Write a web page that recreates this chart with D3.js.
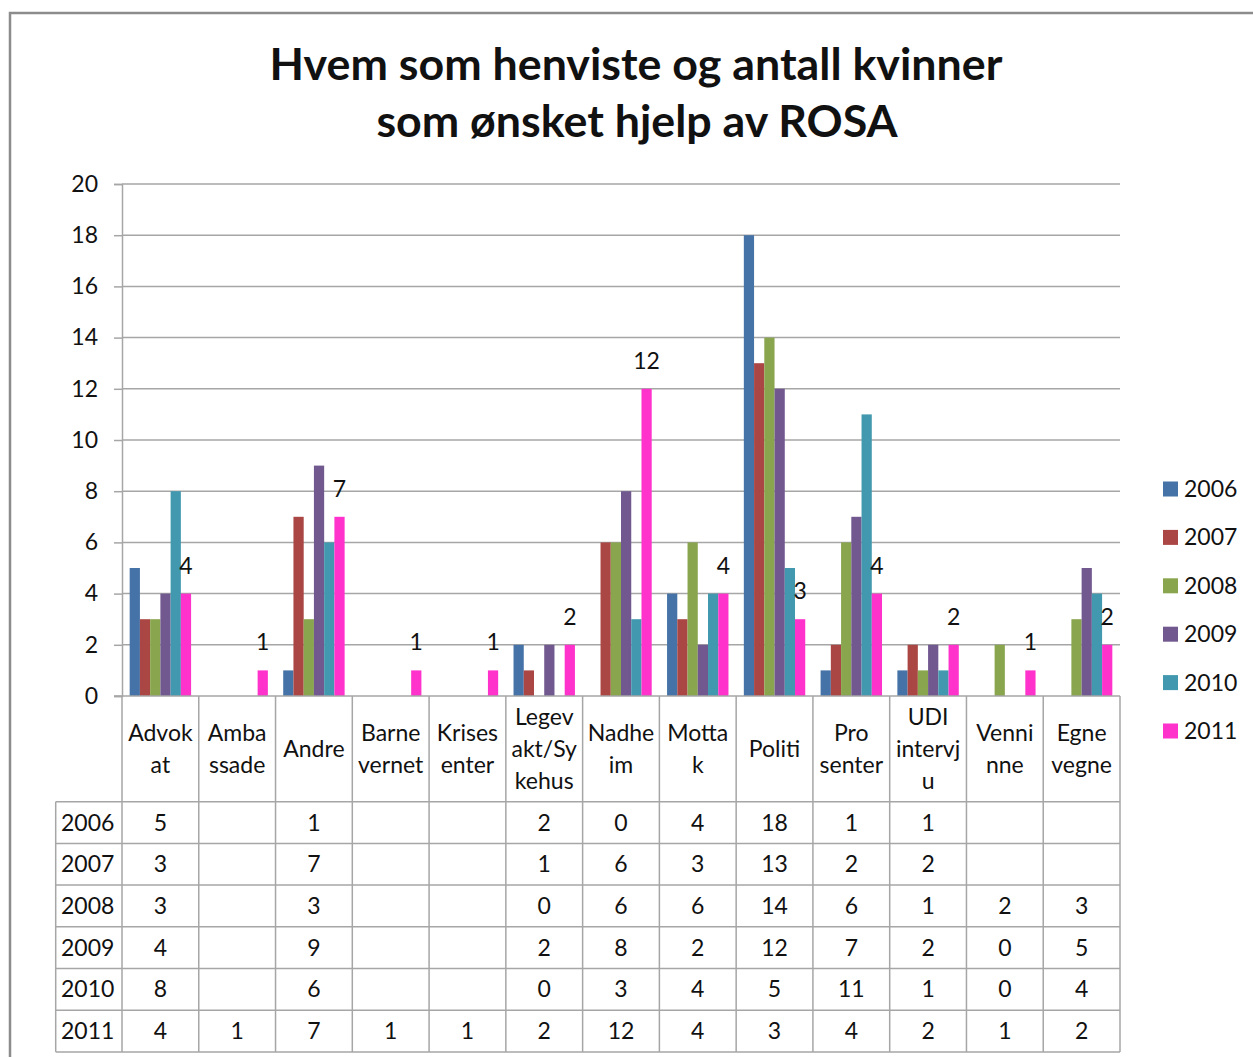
<!DOCTYPE html>
<html><head><meta charset="utf-8">
<script src="https://cdn.jsdelivr.net/npm/d3@7"></script>
<style>body{margin:0;background:#fff}svg{display:block}text{font-family:Lato,"Open Sans",sans-serif;fill:#111}</style>
</head><body><svg id="c" width="1253" height="1057"></svg>
<script>
const titleLines = ["Hvem som henviste og antall kvinner", "som ønsket hjelp av ROSA"];
const categories = ["Advokat","Ambassade","Andre","Barnevernet","Krisesenter","Legevakt/Sykehus","Nadheim","Mottak","Politi","Pro senter","UDI intervju","Venninne","Egne vegne"];
const categoryLabels = [["Advok","at"],["Amba","ssade"],["Andre"],["Barne","vernet"],["Krises","enter"],["Legev","akt/Sy","kehus"],["Nadhe","im"],["Motta","k"],["Politi"],["Pro","senter"],["UDI","intervj","u"],["Venni","nne"],["Egne","vegne"]];
const seriesNames = ["2006","2007","2008","2009","2010","2011"];
const s2006 = [5,null,1,null,null,2,0,4,18,1,1,null,null];
const s2007 = [3,null,7,null,null,1,6,3,13,2,2,null,null];
const s2008 = [3,null,3,null,null,0,6,6,14,6,1,2,3];
const s2009 = [4,null,9,null,null,2,8,2,12,7,2,0,5];
const s2010 = [8,null,6,null,null,0,3,4,5,11,1,0,4];
const s2011 = [4,1,7,1,1,2,12,4,3,4,2,1,2];
const seriesValues = [s2006,s2007,s2008,s2009,s2010,s2011];
const yTicks = [0,2,4,6,8,10,12,14,16,18,20];
const labeledSeries = "2011";
const colors = ["#4572A7","#AA4643","#89A54E","#71588F","#4198AF","#FF33CC"];

const svg = d3.select("#c");
const FONT = 23;
const gridCol = "#A6A6A6";

// frame
svg.append("path").attr("d","M10,1057 V13 H1253").attr("fill","none").attr("stroke","#8c8c8c").attr("stroke-width",2.5);

// title
const tg = svg.append("g");
const tl1 = tg.append("text").attr("x",636).attr("y",80).attr("text-anchor","middle").attr("font-weight","bold").attr("font-size",40).text(titleLines[0]);
const w1 = tl1.node().getComputedTextLength();
const tsize = 40*733/w1;
tl1.attr("font-size",tsize);
tg.append("text").attr("x",637).attr("y",137).attr("text-anchor","middle").attr("font-weight","bold").attr("font-size",tsize).text(titleLines[1]);

const x = d3.scaleBand().domain(categories).range([122,1120]).paddingInner(0).paddingOuter(0);
const y = d3.scaleLinear().domain([0,20]).range([696,184]);
const bw = x.bandwidth()/7.5;
const xs = d3.scaleBand().domain(seriesNames).range([0.75*bw, x.bandwidth()-0.75*bw]);

// gridlines
svg.append("g").selectAll("line").data(yTicks.filter(d=>d>0)).join("line")
  .attr("x1",122).attr("x2",1120).attr("y1",d=>y(d)).attr("y2",d=>y(d))
  .attr("stroke",gridCol).attr("stroke-width",1.5);

// y axis
const yAxis = d3.axisLeft(y).tickValues(yTicks).tickSize(8).tickPadding(16).tickFormat(d3.format("d"));
const ga = svg.append("g").attr("transform","translate(122,0)").call(yAxis);
ga.select(".domain").attr("stroke",gridCol).attr("stroke-width",1.5);
ga.selectAll(".tick line").attr("stroke",gridCol).attr("stroke-width",1.5);
ga.selectAll(".tick text").attr("font-size",FONT).attr("font-family","Lato").attr("fill","#111");

// bars
seriesNames.forEach((s,si)=>{
  const g = svg.append("g");
  const data = seriesValues[si].map((v,i)=>({c:categories[i],v})).filter(d=>d.v!==null);
  g.selectAll("rect").data(data).join("rect")
    .attr("x",d=>x(d.c)+xs(s)).attr("width",xs.bandwidth())
    .attr("y",d=>y(d.v)).attr("height",d=>y(0)-y(d.v))
    .attr("fill",colors[si]);
  if(s===labeledSeries){
    g.selectAll("text").data(data).join("text")
      .attr("x",d=>x(d.c)+xs(s)+xs.bandwidth()/2).attr("y",d=>y(d.v)-20)
      .attr("text-anchor","middle").attr("font-size",FONT).text(d=>d.v);
  }
});

// x axis line
svg.append("line").attr("x1",114).attr("x2",1120).attr("y1",696).attr("y2",696).attr("stroke",gridCol).attr("stroke-width",1.5);

// data table
const headerBottom = 801.7, rowH = 41.7, tblLeft = 55.7;
const tbl = svg.append("g").attr("stroke",gridCol).attr("stroke-width",1.5);
const rowYs = d3.range(seriesNames.length+1).map(i=>headerBottom+i*rowH);
tbl.selectAll("line.h").data(rowYs).join("line").attr("class","h")
  .attr("x1",tblLeft).attr("x2",1120).attr("y1",d=>d).attr("y2",d=>d);
const colXs = categories.map(c=>x(c)).concat([1120]);
tbl.selectAll("line.v").data(colXs).join("line").attr("class","v")
  .attr("x1",d=>d).attr("x2",d=>d).attr("y1",696).attr("y2",rowYs[rowYs.length-1]);
tbl.append("line").attr("x1",tblLeft).attr("x2",tblLeft).attr("y1",headerBottom).attr("y2",rowYs[rowYs.length-1]);

// header labels
const hg = svg.append("g");
categories.forEach((c,i)=>{
  const lines = categoryLabels[i];
  const cy = 749, lh = 32;
  lines.forEach((t,li)=>{
    hg.append("text").attr("x",x(c)+x.bandwidth()/2).attr("y",cy+(li-(lines.length-1)/2)*lh)
      .attr("dy","0.35em").attr("text-anchor","middle").attr("font-size",FONT).text(t);
  });
});
// rows
seriesNames.forEach((s,si)=>{
  const cy = headerBottom + si*rowH + rowH/2;
  svg.append("text").attr("x",61).attr("y",cy).attr("dy","0.35em").attr("font-size",FONT).text(s);
  seriesValues[si].forEach((v,i)=>{
    if(v===null) return;
    svg.append("text").attr("x",x(categories[i])+x.bandwidth()/2).attr("y",cy).attr("dy","0.35em")
      .attr("text-anchor","middle").attr("font-size",FONT).text(v);
  });
});

// legend
const lg = svg.append("g");
seriesNames.forEach((s,i)=>{
  const cy = 489 + i*48.4;
  lg.append("rect").attr("x",1163).attr("y",cy-7.5).attr("width",15).attr("height",15).attr("fill",colors[i]);
  lg.append("text").attr("x",1184).attr("y",cy).attr("dy","0.35em").attr("font-size",FONT).text(s);
});
</script></body></html>
